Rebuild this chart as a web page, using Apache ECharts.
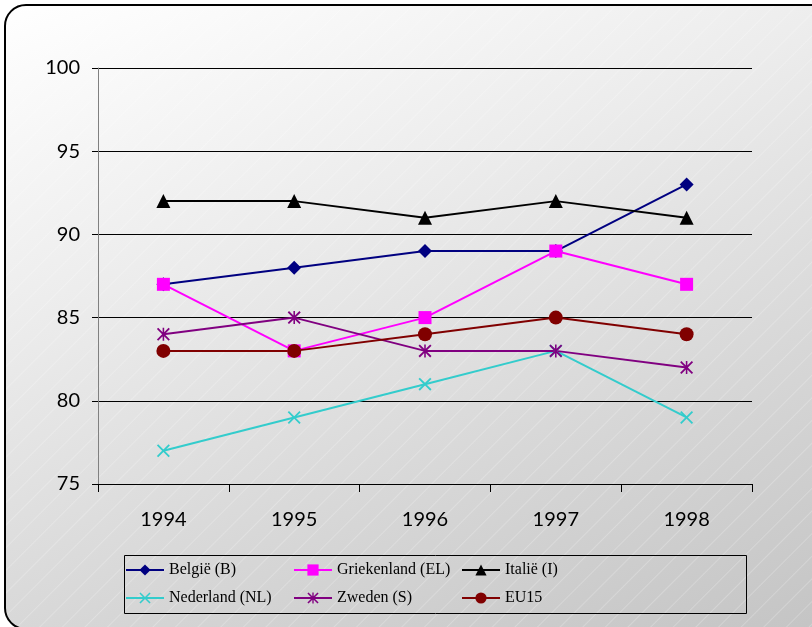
<!DOCTYPE html>
<html>
<head>
<meta charset="utf-8">
<script src="https://cdn.jsdelivr.net/npm/echarts@6/dist/echarts.min.js"></script>
<style>
  html, body { margin: 0; padding: 0; background: #fff; }
  #wrap { position: relative; width: 812px; height: 627px; overflow: hidden; background: #fff; }
  #frame {
    position: absolute; left: 4px; top: 4px; width: 830px; height: 622px;
    border: 2px solid #000; border-radius: 22px;
    background:
      repeating-linear-gradient(135deg, rgba(255,255,255,0) 0px, rgba(255,255,255,0) 14px, rgba(255,255,255,0.22) 15px, rgba(255,255,255,0) 16px),
      linear-gradient(160deg, #ffffff 0%, #ececec 35%, #d6d6d6 70%, #c4c4c4 100%);
  }
  #chart { position: absolute; left: 0; top: 0; width: 812px; height: 627px; }
</style>
</head>
<body>
<div id="wrap">
  <div id="frame"></div>
  <div id="chart"></div>
</div>
<script>
// categories and series values
const years = ['1994', '1995', '1996', '1997', '1998']
const belgie = [87, 88, 89, 89, 93]
const griekenland = [87, 83, 85, 89, 87]
const italie = [92, 92, 91, 92, 91]
const nederland = [77, 79, 81, 83, 79]
const zweden = [84, 85, 83, 83, 82]
const eu15 = [83, 83, 84, 85, 84]

// custom marker shapes (Excel-like cross and star)
const crossPath = 'path://M0,1L1,0L5,4L9,0L10,1L6,5L10,9L9,10L5,6L1,10L0,9L4,5Z'
const starPath = 'path://M0,1L1,0L5,4L9,0L10,1L6,5L10,9L9,10L5,6L1,10L0,9L4,5Z M4.4,0L5.6,0L5.6,10L4.4,10Z'

const seriesDefs = [
  { name: 'België (B)', color: '#000080', symbol: 'diamond', size: 14, data: belgie },
  { name: 'Griekenland (EL)', color: '#FF00FF', symbol: 'rect', size: 13, data: griekenland },
  { name: 'Italië (I)', color: '#000000', symbol: 'triangle', size: 14, data: italie },
  { name: 'Nederland (NL)', color: '#33CCCC', symbol: crossPath, size: 13, data: nederland },
  { name: 'Zweden (S)', color: '#800080', symbol: starPath, size: 13, data: zweden },
  { name: 'EU15', color: '#800000', symbol: 'circle', size: 14, data: eu15 }
]

const chart = echarts.init(document.getElementById('chart'), null, { renderer: 'canvas' })

const legendBase = {
  orient: 'vertical',
  top: 562,
  padding: 0,
  itemGap: 12,
  itemWidth: 38,
  itemHeight: 14,
  lineStyle: { width: 2 },
  textStyle: { fontFamily: 'Liberation Serif', fontSize: 16, color: '#000' },
  selectedMode: false
}

const option = {
  backgroundColor: 'transparent',
  animation: false,
  grid: { left: 98, right: 60, top: 68, bottom: 143, containLabel: false },
  legend: [
    Object.assign({}, legendBase, { left: 125, data: [seriesDefs[0].name, seriesDefs[3].name] }),
    Object.assign({}, legendBase, { left: 293, data: [seriesDefs[1].name, seriesDefs[4].name] }),
    Object.assign({}, legendBase, { left: 461, data: [seriesDefs[2].name, seriesDefs[5].name] })
  ],
  graphic: [{
    type: 'rect',
    left: 122, top: 553,
    shape: { width: 622, height: 58 },
    style: { fill: 'none', stroke: '#000', lineWidth: 1 },
    z: 100
  }],
  xAxis: {
    type: 'category',
    data: years,
    boundaryGap: true,
    axisLine: { lineStyle: { color: '#000', width: 1 } },
    axisTick: { show: true, length: 8, alignWithLabel: false, lineStyle: { color: '#000' } },
    axisLabel: { color: '#000', fontFamily: 'Lato', fontSize: 20, margin: 26 },
    splitLine: { show: false }
  },
  yAxis: {
    type: 'value',
    min: 75,
    max: 100,
    interval: 5,
    axisLine: { show: true, lineStyle: { color: '#808080', width: 1 } },
    axisTick: { show: true, length: 6, lineStyle: { color: '#000' } },
    axisLabel: { color: '#000', fontFamily: 'Lato', fontSize: 20, margin: 18 },
    splitLine: { show: true, lineStyle: { color: '#000', width: 1 } }
  },
  series: seriesDefs.map(s => ({
    name: s.name,
    type: 'line',
    data: s.data,
    symbol: s.symbol,
    symbolSize: s.size,
    showAllSymbol: true,
    lineStyle: { color: s.color, width: 2 },
    itemStyle: { color: s.color, borderWidth: 0 },
    emphasis: { disabled: true }
  }))
}

chart.setOption(option)
</script>
</body>
</html>
